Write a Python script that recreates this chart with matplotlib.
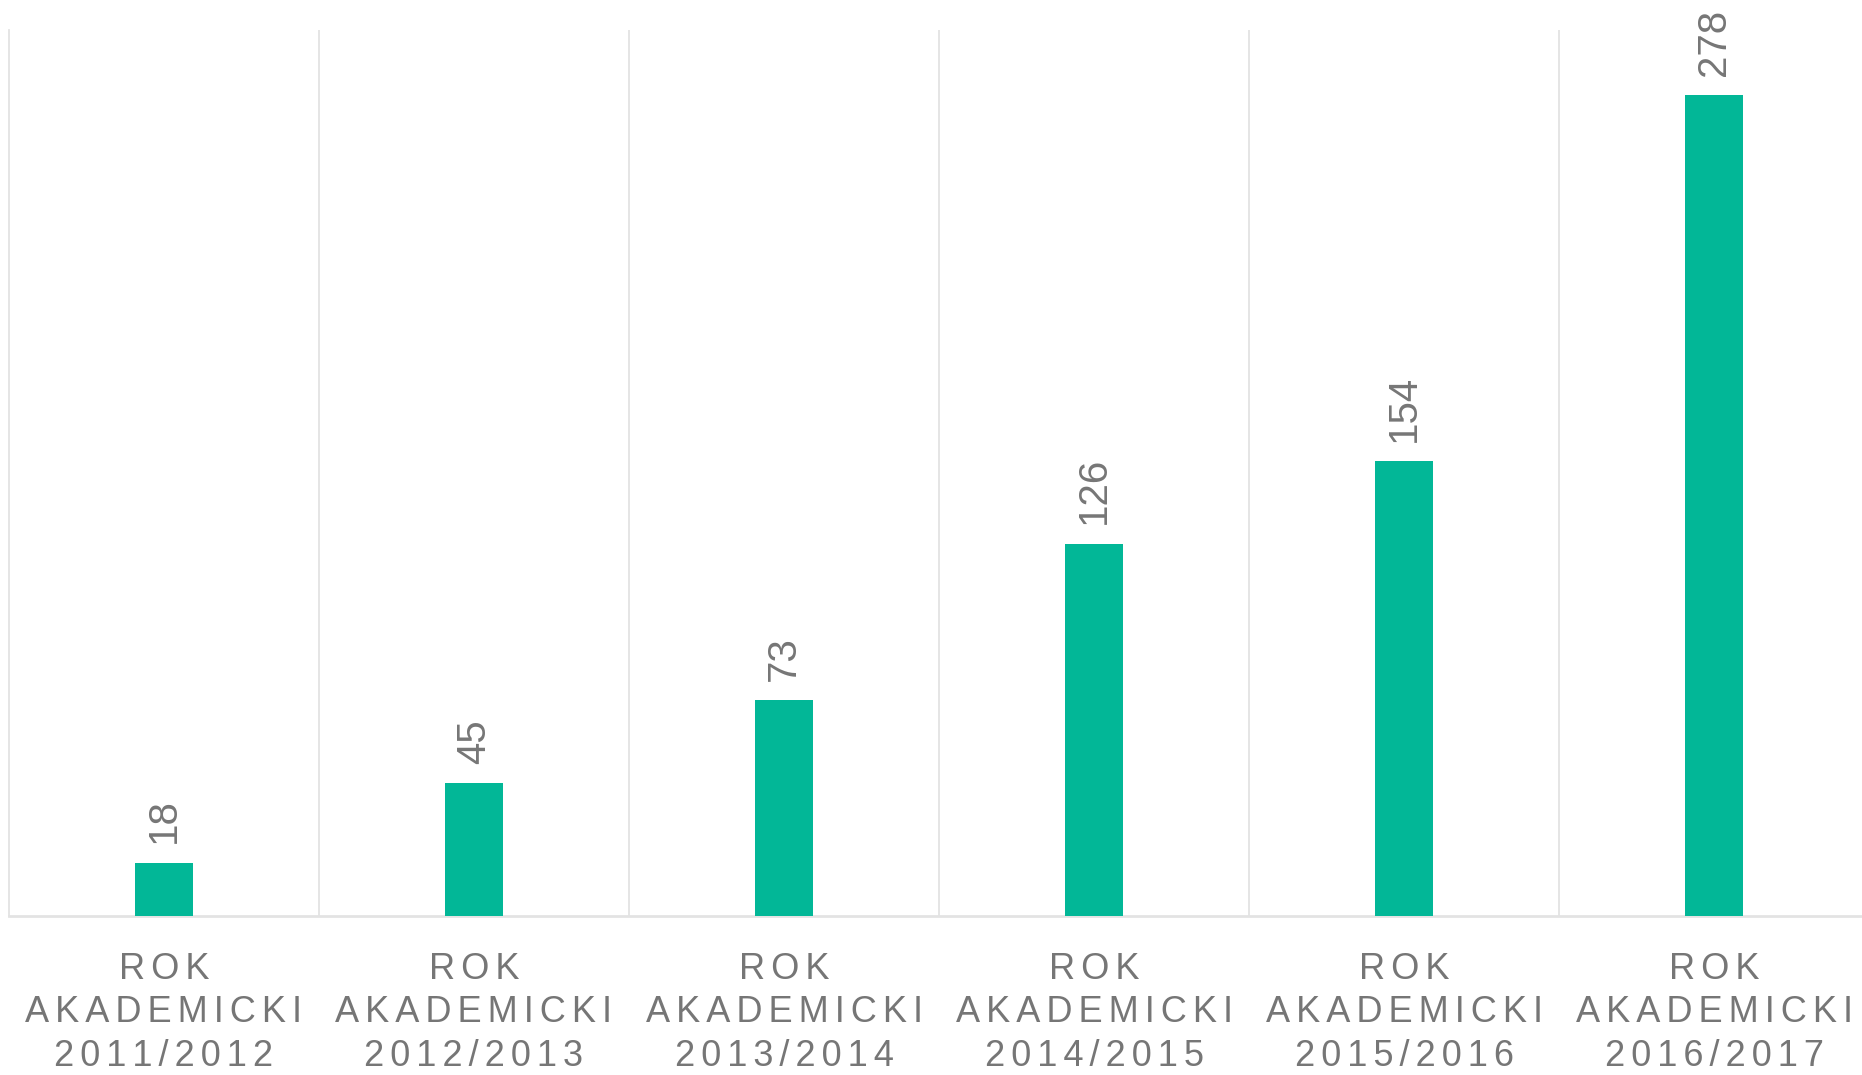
import numpy as np
import matplotlib.pyplot as plt

# Dane
years = ["2011/2012", "2012/2013", "2013/2014", "2014/2015", "2015/2016", "2016/2017"]
values = [18, 45, 73, 126, 154, 278]


def spaced(s):
    # rozstrzelenie liter (odstęp między znakami)
    return "\u2006".join(s)


labels = ["\n".join(spaced(t) for t in ["ROK", "AKADEMICKI", y]) for y in years]

bar_color = "#02B797"
text_color = "#767676"
grid_color = "#E3E3E3"

plt.rcParams['font.family'] = ['Liberation Sans', 'DejaVu Sans']

fig = plt.figure(figsize=(18.62, 10.75), dpi=100)
ax = fig.add_axes([0.0048, 0.148, 0.9952, 0.824])

x = np.arange(len(values))
bars = ax.bar(x, values, width=0.185, color=bar_color, zorder=3)

for b, v in zip(bars, values):
    ax.annotate(str(v), (b.get_x() + b.get_width() / 2, v),
                xytext=(0, 14), textcoords="offset points",
                rotation=90, ha="center", va="bottom",
                fontsize=29, color=text_color)

ax.set_xlim(-0.5, 5.477)
ax.set_ylim(0, 300)
ax.set_yticks([])

ax.set_xticks(x)
ax.set_xticklabels(labels, fontsize=26, color=text_color, linespacing=1.31)
ax.tick_params(axis="x", length=0, pad=26)

# linie oddzielające kategorie
ax.set_xticks(np.arange(0.5, 5, 1), minor=True)
ax.tick_params(axis="x", which="minor", length=0)
ax.grid(axis="x", which="minor", color=grid_color, linewidth=1.3, zorder=0)

for s in ["top", "right"]:
    ax.spines[s].set_visible(False)
ax.spines["left"].set_color(grid_color)
ax.spines["left"].set_linewidth(1.3)
ax.spines["bottom"].set_color(grid_color)
ax.spines["bottom"].set_linewidth(2)

fig.savefig("out.png", dpi=100)
